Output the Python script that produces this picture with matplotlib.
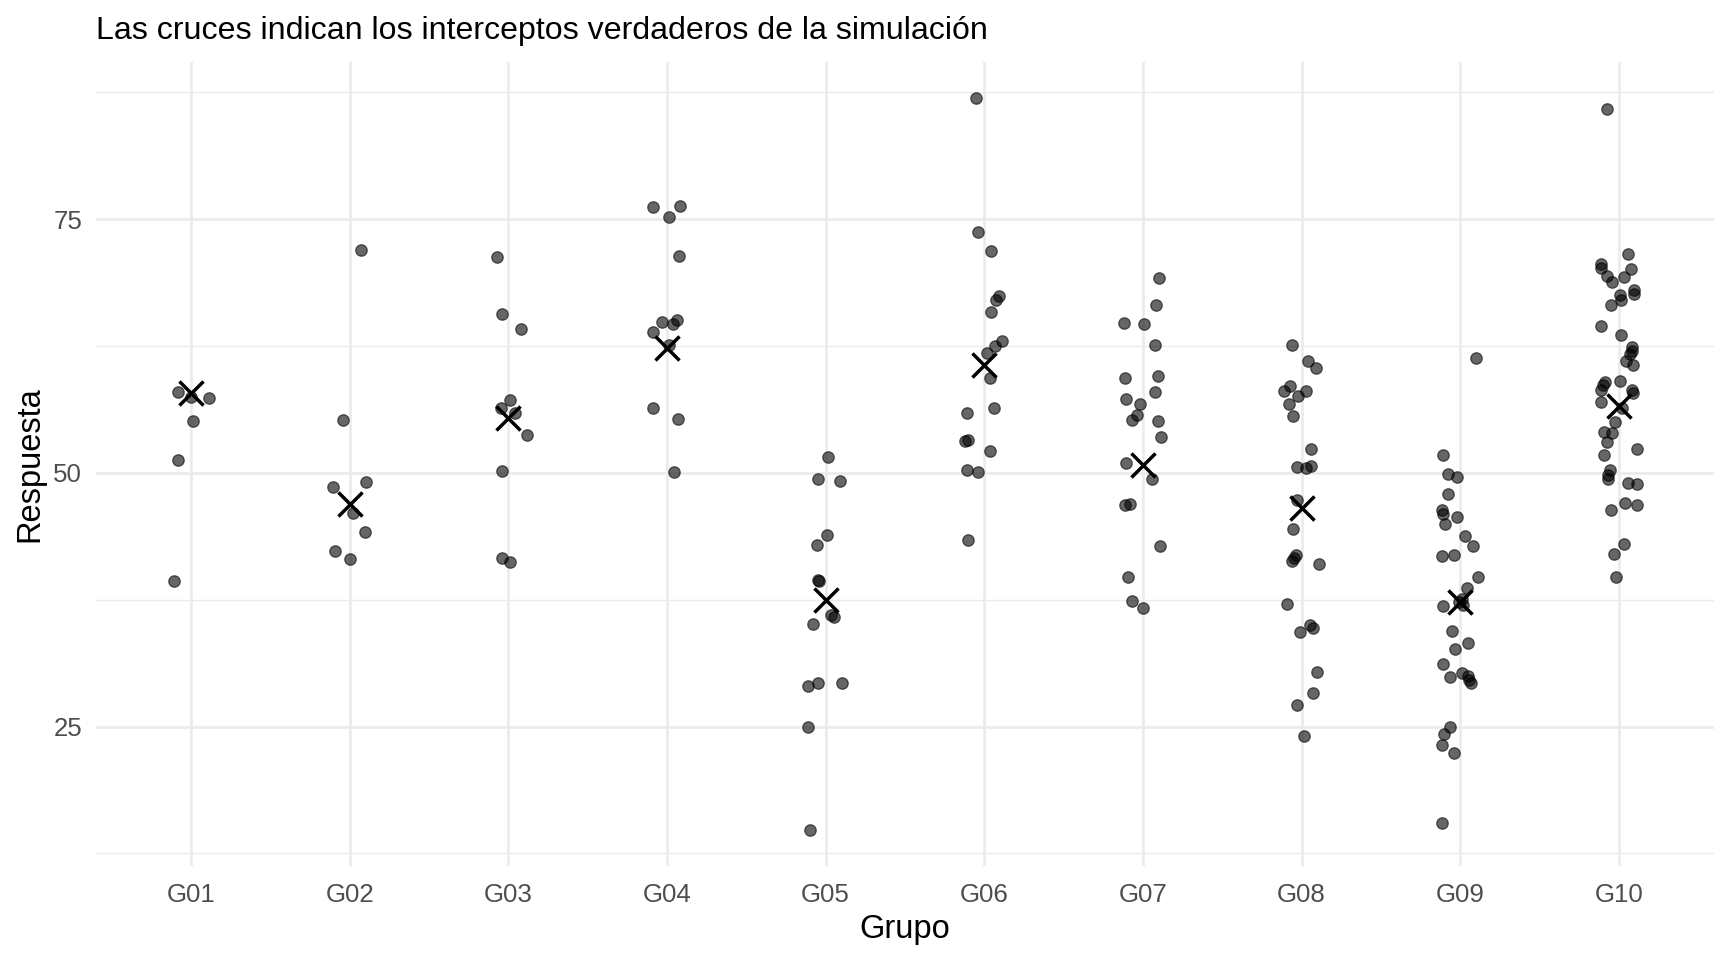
import matplotlib
matplotlib.use('Agg')
from matplotlib import pyplot as plt

plt.rcParams['font.family'] = ['Liberation Sans', 'DejaVu Sans']

grupos = ['G01', 'G02', 'G03', 'G04', 'G05', 'G06', 'G07', 'G08', 'G09', 'G10']

resp_g01 = [58.0, 57.5, 57.4, 55.1, 51.3, 39.3]
resp_g02 = [72.0, 55.2, 49.15, 48.6, 46.0, 44.2, 42.3, 41.5]
resp_g03 = [71.3, 65.7, 64.2, 57.2, 56.4, 55.9, 53.7, 50.2, 41.6, 41.2]
resp_g04 = [76.2, 76.3, 75.2, 71.4, 64.9, 65.1, 64.7, 63.9, 62.6, 56.35, 55.3, 50.1]
resp_g05 = [51.6, 49.4, 49.2, 43.9, 42.9, 39.4, 39.3, 35.95, 35.8, 35.1, 29.0, 29.3, 29.3, 25.0, 14.8]
resp_g06 = [87.0, 73.7, 71.9, 67.4, 67.0, 65.9, 63.0, 62.5, 61.8, 59.4, 56.4, 55.9,
            53.1, 53.2, 52.2, 50.3, 50.1, 43.4]
resp_g07 = [69.25, 66.55, 64.8, 64.7, 62.6, 59.4, 59.5, 58.0, 57.3, 56.8, 55.75, 55.2,
            55.1, 53.5, 51.0, 49.4, 46.8, 46.9, 42.8, 39.7, 37.4, 36.7]
resp_g08 = [62.6, 61.05, 60.3, 58.6, 58.1, 57.6, 58.1, 56.8, 55.65, 52.4, 50.55, 50.5,
            50.7, 47.3, 44.45, 41.9, 41.3, 41.6, 41.0, 37.1, 35.0, 34.7, 34.3, 30.4,
            28.3, 27.1, 24.1]
resp_g09 = [61.3, 51.8, 49.9, 49.6, 47.9, 46.3, 45.9, 45.0, 45.7, 43.8, 42.8, 41.8,
            41.9, 39.7, 38.65, 37.6, 37.3, 37.0, 36.9, 34.4, 33.2, 32.6, 31.15, 29.9,
            30.3, 30.0, 29.6, 29.3, 25.0, 24.3, 23.2, 22.4, 15.5]
resp_g10 = [85.9, 71.6, 70.6, 70.2, 70.1, 69.4, 69.3, 68.8, 68.0, 67.6, 67.5, 67.0,
            66.5, 64.5, 63.55, 62.4, 62.0, 61.7, 61.0, 60.6, 59.0, 58.65, 58.2, 59.1,
            58.2, 57.9, 57.0, 56.4, 55.0, 54.0, 53.9, 53.0, 52.4, 51.8, 50.3, 49.8,
            49.4, 49.0, 48.9, 47.0, 46.8, 46.3, 43.0, 42.0, 39.7]

# jitter horizontal de cada punto (en unidades de grupo)
jit_g01 = [-0.08, 0.0, 0.11, 0.01, -0.08, -0.11]
jit_g02 = [0.07, -0.045, 0.10, -0.107, 0.02, 0.093, -0.096, 0.0]
jit_g03 = [-0.073, -0.04, 0.08, 0.01, -0.045, 0.04, 0.115, -0.04, -0.04, 0.01]
jit_g04 = [-0.087, 0.08, 0.01, 0.076, -0.034, 0.06, 0.04, -0.087, 0.01, -0.09, 0.07, 0.045]
jit_g05 = [0.013, -0.05, 0.09, 0.01, -0.057, -0.048, -0.045, 0.036, 0.05, -0.08, -0.11,
           -0.048, 0.1, -0.11, -0.096]
jit_g06 = [-0.055, -0.04, 0.044, 0.094, 0.073, 0.044, 0.113, 0.07, 0.017, 0.036, 0.06,
           -0.11, -0.12, -0.1, 0.036, -0.11, -0.04, -0.105]
jit_g07 = [0.1, 0.08, -0.12, 0.006, 0.074, -0.114, 0.097, 0.078, -0.107, -0.017, -0.04,
           -0.07, 0.093, 0.116, -0.107, 0.06, -0.11, -0.08, 0.105, -0.097, -0.07, 0.0]
jit_g08 = [-0.063, 0.042, 0.093, -0.076, -0.11, -0.02, 0.03, -0.08, -0.055, 0.06, -0.027,
           0.03, 0.057, -0.027, -0.057, -0.038, -0.06, -0.05, 0.11, -0.09, 0.05, 0.074,
           -0.013, 0.1, 0.074, -0.027, 0.015]
jit_g09 = [0.1, -0.11, -0.08, -0.017, -0.077, -0.115, -0.11, -0.094, -0.02, 0.03, 0.08,
           -0.115, -0.036, 0.115, 0.04, 0.01, -0.01, 0.02, -0.11, -0.054, 0.05, -0.03,
           -0.107, -0.065, 0.01, 0.05, 0.057, 0.067, -0.063, -0.1, -0.117, -0.04, -0.115]
jit_g10 = [-0.073, 0.06, -0.11, -0.113, 0.075, -0.075, 0.033, -0.04, 0.096, 0.094, 0.006,
           0.015, -0.05, -0.113, 0.015, 0.08, 0.08, 0.07, 0.044, 0.09, -0.09, -0.1, -0.11,
           0.01, 0.08, 0.09, -0.115, 0.02, -0.025, -0.094, -0.04, -0.075, 0.117, -0.094,
           -0.056, -0.067, -0.067, 0.056, 0.113, 0.036, 0.117, -0.05, 0.033, -0.03, -0.015]

# interceptos verdaderos de la simulacion (cruces)
interceptos = [57.9, 46.9, 55.4, 62.3, 37.5, 60.6, 50.8, 46.5, 37.3, 56.6]

respuestas = [resp_g01, resp_g02, resp_g03, resp_g04, resp_g05,
              resp_g06, resp_g07, resp_g08, resp_g09, resp_g10]
jitters = [jit_g01, jit_g02, jit_g03, jit_g04, jit_g05,
           jit_g06, jit_g07, jit_g08, jit_g09, jit_g10]

fig = plt.figure(figsize=(17.28, 9.6), dpi=100)
ax = fig.add_axes([96 / 1728, 1 - 866 / 960, (1714 - 96) / 1728, (866 - 62) / 960])

for i, (ys, js) in enumerate(zip(respuestas, jitters)):
    xs = [i + 1 + j for j in js]
    ax.scatter(xs, ys, s=68, color='black', alpha=0.6, linewidths=0.9,
               edgecolors='black', zorder=3)

ax.scatter(range(1, len(grupos) + 1), interceptos, marker='x', s=300,
           color='black', linewidths=2.5, zorder=4)

ax.set_xlim(0.4, 10.6)
ax.set_ylim(11.25, 90.5)
ax.set_xticks(range(1, len(grupos) + 1))
ax.set_xticklabels(grupos)
ax.set_yticks([25, 50, 75])
ax.set_yticks([12.5, 37.5, 62.5, 87.5], minor=True)

ax.grid(which='major', color='#EBEBEB', linewidth=1.9, zorder=0)
ax.grid(which='minor', axis='y', color='#EBEBEB', linewidth=0.95, zorder=0)
ax.set_axisbelow(True)
for sp in ax.spines.values():
    sp.set_visible(False)

ax.tick_params(which='both', length=0)
ax.tick_params(axis='x', pad=12, labelsize=18.6, labelcolor='#4D4D4D')
ax.tick_params(axis='y', pad=10, labelsize=18.6, labelcolor='#4D4D4D')

ax.set_xlabel('Grupo', fontsize=23.5, labelpad=5)
ax.set_ylabel('Respuesta', fontsize=23.5, labelpad=6)

fig.text(96 / 1728, 1 - 39.5 / 960, 'Las cruces indican los interceptos verdaderos de la simulación',
         fontsize=23.1, ha='left', va='baseline')

fig.savefig('out.png', dpi=100)
